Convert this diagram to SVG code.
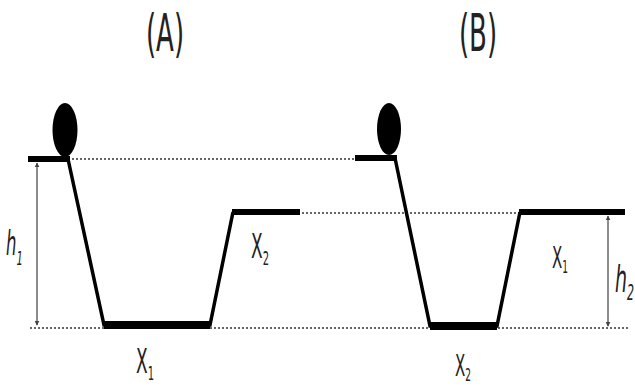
<svg xmlns="http://www.w3.org/2000/svg" width="635" height="388" viewBox="0 0 635 388">
<defs>
<marker id="ah" viewBox="0 0 8 8" refX="7" refY="4" markerWidth="5" markerHeight="5" orient="auto-start-reverse" markerUnits="userSpaceOnUse">
<path d="M0,0 L8,4 L0,8 Z" fill="#444"/>
</marker>
<style>
.lbl{font-family:"DejaVu Sans","Liberation Sans",sans-serif;fill:#222}
.it{font-style:italic}
.dot{stroke:#666;stroke-width:2;stroke-dasharray:2 2;fill:none}
.track{stroke:#000;stroke-width:3.5;fill:none;stroke-linejoin:miter}
.thick{stroke:#000;stroke-width:6;fill:none}
.floor{stroke:#000;stroke-width:8;fill:none}
.dim{stroke:#666;stroke-width:1.5;fill:none}
.ball{fill:#000}
</style>
</defs>
<rect width="635" height="388" fill="#fff"/>
<g id="guides">
<line class="dot" x1="72" y1="159" x2="355" y2="159"/>
<line class="dot" x1="302" y1="213" x2="520" y2="213"/>
<line class="dot" x1="30" y1="328" x2="630" y2="328"/>
</g>
<g id="titleA"><text class="lbl" font-size="52" text-anchor="middle" transform="translate(165,51) scale(0.5,1)">(A)</text></g>
<g id="titleB"><text class="lbl" font-size="52" text-anchor="middle" transform="translate(478,51) scale(0.5,1)">(B)</text></g>
<g id="trackA">
<line class="thick" x1="28" y1="159" x2="70" y2="159"/>
<polyline class="track" points="68,159 104,325 210,325 233,212"/>
<line class="floor" x1="104" y1="325" x2="210" y2="325"/>
<line class="thick" x1="232" y1="212" x2="300" y2="212"/>
</g>
<g id="ballA"><ellipse class="ball" cx="65" cy="130" rx="12.5" ry="27"/></g>
<g id="trackB">
<line class="thick" x1="355" y1="158" x2="397" y2="158"/>
<polyline class="track" points="395,158 430,326 497,326 520,212"/>
<line class="floor" x1="430" y1="326" x2="497" y2="326"/>
<line class="thick" x1="519" y1="212" x2="625" y2="212"/>
</g>
<g id="ballB"><ellipse class="ball" cx="389" cy="129" rx="12" ry="26"/></g>
<g id="connectors">
<line class="dim" x1="37" y1="163" x2="37" y2="325" marker-start="url(#ah)" marker-end="url(#ah)"/>
<line class="dim" x1="608" y1="216" x2="608" y2="326" marker-start="url(#ah)" marker-end="url(#ah)"/>
</g>
<g id="labelH1"><text class="lbl it" font-size="33" transform="translate(6,255) scale(0.5,1)">h<tspan font-size="20" dy="10">1</tspan></text></g>
<g id="labelX2A"><text class="lbl" font-size="34" transform="translate(251,258) scale(0.5,1)">X<tspan font-size="20" dy="7">2</tspan></text></g>
<g id="labelX1A"><text class="lbl" font-size="34" transform="translate(136,373) scale(0.5,1)">X<tspan font-size="20" dy="7">1</tspan></text></g>
<g id="labelX1B"><text class="lbl" font-size="30" transform="translate(552,268) scale(0.5,1)">X<tspan font-size="18" dy="5">1</tspan></text></g>
<g id="labelX2B"><text class="lbl" font-size="30" transform="translate(455,376) scale(0.5,1)">X<tspan font-size="18" dy="5">2</tspan></text></g>
<g id="labelH2"><text class="lbl it" font-size="38" transform="translate(615,292) scale(0.5,1)">h<tspan font-size="22" dy="8">2</tspan></text></g>
</svg>
